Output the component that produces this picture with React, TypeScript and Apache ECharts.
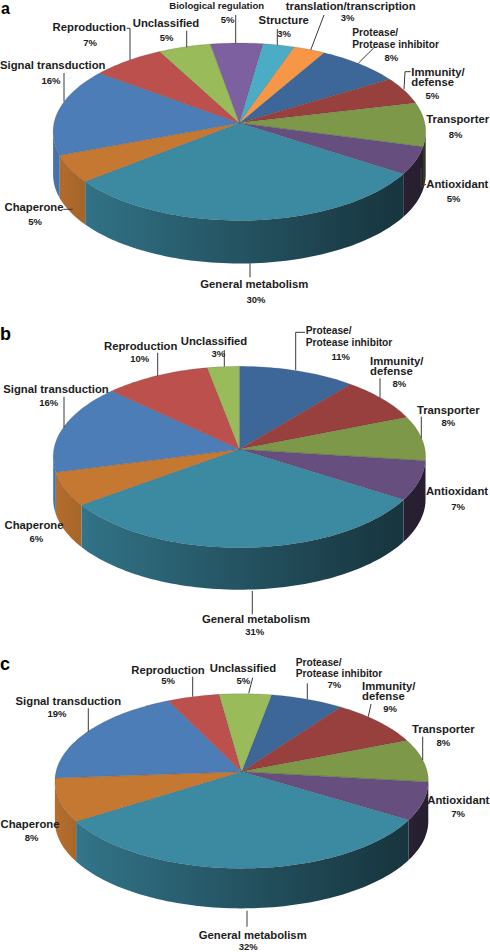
import React, { useEffect, useRef } from "react";
import * as echarts from "echarts";

// ---- data ----
const categoriesA = ["Protease/Protease inhibitor", "Immunity/defense", "Transporter", "Antioxidant", "General metabolism", "Chaperone", "Signal transduction", "Reproduction", "Unclassified", "Biological regulation", "Structure", "translation/transcription"];
const valuesA = [8, 5, 8, 5, 30, 5, 16, 7, 5, 5, 3, 3];
const categoriesB = ["Protease/Protease inhibitor", "Immunity/defense", "Transporter", "Antioxidant", "General metabolism", "Chaperone", "Signal transduction", "Reproduction", "Unclassified"];
const valuesB = [11, 8, 8, 7, 31, 6, 16, 10, 3];
const categoriesC = categoriesB;
const valuesC = [7, 9, 8, 7, 32, 8, 19, 5, 5];

const colorOf: Record<string, string> = {
  "Protease/Protease inhibitor": "#3C6798",
  "Immunity/defense": "#97403D",
  "Transporter": "#7C9848",
  "Antioxidant": "#664F7E",
  "General metabolism": "#3C8AA2",
  "Chaperone": "#C57831",
  "Signal transduction": "#4D7DB7",
  "Reproduction": "#BC504C",
  "Unclassified": "#9ABB59",
  "Biological regulation": "#7D60A0",
  "Structure": "#4BACC6",
  "translation/transcription": "#F79646",
};

// ---- layout ----
type Pie = { cx: number; apexY: number; up: number; down: number; halfW: number; depth: number; start: number };
const pieA: Pie = { cx: 239.4, apexY: 123, up: 80, down: 97.5, halfW: 186.3, depth: 43, start: 29.7 };
const pieB: Pie = { cx: 239.4, apexY: 449.3, up: 83, down: 98.4, halfW: 186.2, depth: 42, start: 0 };
const pieC: Pie = { cx: 241.6, apexY: 771.7, up: 78, down: 96.7, halfW: 186.7, depth: 40, start: 10.3 };

const L = 11.3; // label size
const P = 9.5; // percent size
const S = 10.2; // protease label size

// [text, anchor x, centre y, size, align, line height]
type T = [string, number, number, number, string?, number?];
const textsA: T[] = [
  ["Biological regulation", 216.7, 5, 9.6], ["5%", 227.7, 19.3, P],
  ["translation/transcription", 350.7, 5.5, L], ["3%", 347.7, 17.7, P],
  ["Structure", 283.7, 20, L], ["3%", 284, 33.7, P],
  ["Protease/\nProtease inhibitor", 352.3, 38.2, S, "left", 11.7], ["8%", 391.3, 57, P],
  ["Immunity/\ndefense", 411.3, 76.9, L, "left", 10.3], ["5%", 432.3, 95.3, P],
  ["Transporter", 457.7, 119, L], ["8%", 455.7, 134, P],
  ["Antioxidant", 457.3, 184.3, L], ["5%", 453.7, 198.7, P],
  ["General metabolism", 254.3, 284, L], ["30%", 256, 299.7, P],
  ["Chaperone", 34, 206.7, L], ["5%", 35, 221.7, P],
  ["Signal transduction", 52.7, 65.3, L], ["16%", 51, 80, P],
  ["Reproduction", 89.3, 27.3, L], ["7%", 90, 42, P],
  ["Unclassified", 166, 23, L], ["5%", 166.7, 37, P],
];
const textsB: T[] = [
  ["Protease/\nProtease inhibitor", 305.7, 336.4, S, "left", 11.4], ["11%", 340.7, 356, P],
  ["Immunity/\ndefense", 370, 365.9, L, "left", 10.3], ["8%", 399.3, 383.3, P],
  ["Transporter", 448.3, 410, L], ["8%", 448.3, 422.7, P],
  ["Antioxidant", 457, 491.3, L], ["7%", 458, 506, P],
  ["General metabolism", 256, 618.7, L], ["31%", 254.7, 631, P],
  ["Chaperone", 34, 525, L], ["6%", 36.3, 538.7, P],
  ["Signal transduction", 56, 389.3, L], ["16%", 48.7, 402.7, P],
  ["Reproduction", 140.7, 346, L], ["10%", 139.7, 358.3, P],
  ["Unclassified", 214, 341.3, L], ["3%", 218.3, 353, P],
];
const textsC: T[] = [
  ["Reproduction", 168, 669.5, L], ["5%", 168, 680.5, P],
  ["Unclassified", 243, 668.3, L], ["5%", 243.3, 680.7, P],
  ["Protease/\nProtease inhibitor", 295.7, 668, S, "left", 11.4], ["7%", 334.3, 684.6, P],
  ["Immunity/\ndefense", 362, 691, L, "left", 10.6], ["9%", 390, 708.3, P],
  ["Transporter", 443.3, 729.3, L], ["8%", 443.3, 742, P],
  ["Antioxidant", 458.3, 800, L], ["7%", 458, 813.7, P],
  ["General metabolism", 252.7, 934.5, L], ["32%", 248.3, 946.5, P],
  ["Chaperone", 30, 824.3, L], ["8%", 31.7, 837.7, P],
  ["Signal transduction", 68.3, 701, L], ["19%", 57, 713.3, P],
];
const panelLetters: [string, number, number, number][] = [["a", 1, 8, 16], ["b", 0, 334, 18], ["c", 0, 664, 18]];

const leaders: number[][][] = [
  // a
  [[64, 73], [64, 101.7]], [[126.7, 28.3], [130, 28.3], [130, 60]], [[186.7, 30.7], [186.7, 47.3]],
  [[235.7, 15], [235.7, 43.3]], [[277.3, 29], [277.3, 45]], [[324, 15], [310.7, 50]], [[375, 46.7], [358.3, 63.3]],
  [[410.7, 71.7], [405, 71.7], [404, 89.3]], [[426, 184.3], [421, 186.7], [421, 168]], [[250, 263.3], [250, 277.3]], [[63.3, 209.3], [72.7, 209.3]],
  // b
  [[305, 332.3], [295.7, 332.3], [295.7, 370]], [[380, 378.3], [380, 397.7]], [[421.3, 416.7], [421.3, 438.3]],
  [[252.3, 591], [252.3, 614.3]], [[64, 396.7], [64, 427.3]], [[157.7, 352.7], [157.7, 376]], [[224.3, 350], [224.3, 366.7]],
  // c
  [[192.7, 676.7], [192.7, 696.7]], [[252.7, 677.7], [248.7, 693.3]], [[307.3, 683.3], [307.3, 699.3]], [[371, 704], [368.3, 716.7]],
  [[422.7, 736.7], [422.7, 760]], [[247, 910.7], [247, 926.7]], [[88.3, 708.3], [88.3, 731.7]],
];

const FONT = '"Liberation Sans", Arial, sans-serif';
const TEXT_COLOR = "#1c1c1c";
const LINE_COLOR = "#3a3a3a";
const WALL_SHADES: [number, number][] = [[0, 0.92], [0.1, 0.82], [0.5, 0.6], [0.9, 0.4], [1, 0.38]];

function shade(hex: string, f: number) {
  const n = parseInt(hex.slice(1), 16);
  const c = [(n >> 16) & 255, (n >> 8) & 255, n & 255].map((v) => Math.round(v * f));
  return `rgb(${c[0]},${c[1]},${c[2]})`;
}

function project(p: Pie, deg: number, dy = 0): number[] {
  const k = (p.down - p.up) / (p.down + p.up);
  const B = p.up * (1 + k);
  const R = p.halfW * Math.sqrt(1 - k * k);
  const a = (deg * Math.PI) / 180;
  const w = 1 + k * Math.cos(a);
  return [p.cx + (R * Math.sin(a)) / w, p.apexY - (B * Math.cos(a)) / w + dy];
}

function arc(p: Pie, a0: number, a1: number, dy = 0) {
  const n = Math.max(2, Math.ceil((a1 - a0) / 1.5));
  const out: number[][] = [];
  for (let i = 0; i <= n; i++) out.push(project(p, a0 + ((a1 - a0) * i) / n, dy));
  return out;
}

function range(values: number[], i: number, start: number) {
  const total = values.reduce((s, v) => s + v, 0);
  const before = values.slice(0, i).reduce((s, v) => s + v, 0);
  return [start + (before / total) * 360, start + ((before + values[i]) / total) * 360];
}

function faceSeries(name: string, p: Pie, cats: string[], vals: number[]) {
  return {
    type: "custom",
    name,
    coordinateSystem: "none",
    silent: true,
    z: 3,
    data: vals.map((v, i) => ({ name: cats[i], value: [v] })),
    renderItem: (params: any) => {
      const [a0, a1] = range(vals, params.dataIndex, p.start);
      return {
        type: "polygon",
        shape: { points: [[p.cx, p.apexY], ...arc(p, a0, a1)] },
        style: { fill: colorOf[cats[params.dataIndex]], stroke: "rgba(50,50,60,0.3)", lineWidth: 0.5 },
      };
    },
  };
}

function wallSeries(name: string, p: Pie, cats: string[], vals: number[]) {
  const k = (p.down - p.up) / (p.down + p.up);
  const lo = (Math.acos(-k) * 180) / Math.PI;
  const hi = 360 - lo;
  return {
    type: "custom",
    name,
    coordinateSystem: "none",
    silent: true,
    z: 2,
    data: vals.map((v, i) => ({ name: cats[i], value: [v] })),
    renderItem: (params: any) => {
      const [a0, a1] = range(vals, params.dataIndex, p.start);
      const from = Math.max(a0, lo);
      const to = Math.min(a1, hi);
      if (to <= from) return { type: "group", children: [] };
      const color = colorOf[cats[params.dataIndex]];
      return {
        type: "polygon",
        shape: { points: [...arc(p, from, to), ...arc(p, from, to, p.depth).reverse()] },
        style: {
          fill: {
            type: "linear",
            global: true,
            x: p.cx - p.halfW,
            y: 0,
            x2: p.cx + p.halfW,
            y2: 0,
            colorStops: WALL_SHADES.map(([offset, f]) => ({ offset, color: shade(color, f) })),
          },
        },
      };
    },
  };
}

function textEl(t: T) {
  return {
    type: "text",
    silent: true,
    z: 10,
    x: t[1],
    y: t[2],
    style: {
      text: t[0],
      fill: TEXT_COLOR,
      font: `bold ${t[3]}px ${FONT}`,
      textAlign: t[4] ?? "center",
      textVerticalAlign: "middle",
      ...(t[5] ? { lineHeight: t[5] } : {}),
    },
  };
}

export default function App() {
  const ref = useRef<HTMLDivElement>(null);
  useEffect(() => {
    const chart = echarts.init(ref.current!, undefined, { renderer: "svg" });
    chart.setOption({
      animation: false,
      backgroundColor: "#ffffff",
      series: [
        wallSeries("a-wall", pieA, categoriesA, valuesA),
        faceSeries("a", pieA, categoriesA, valuesA),
        wallSeries("b-wall", pieB, categoriesB, valuesB),
        faceSeries("b", pieB, categoriesB, valuesB),
        wallSeries("c-wall", pieC, categoriesC, valuesC),
        faceSeries("c", pieC, categoriesC, valuesC),
      ],
      graphic: {
        elements: [
          ...[...textsA, ...textsB, ...textsC].map(textEl),
          ...panelLetters.map(([s, x, y, size]) => ({
            type: "text",
            silent: true,
            z: 10,
            x,
            y,
            style: { text: s, fill: "#000", font: `bold ${size}px ${FONT}`, textAlign: "left", textVerticalAlign: "middle" },
          })),
          ...leaders.map((pts) => ({
            type: "polyline",
            silent: true,
            z: 9,
            shape: { points: pts },
            style: { stroke: LINE_COLOR, lineWidth: 1, fill: "none" },
          })),
        ],
      },
    });
    return () => chart.dispose();
  }, []);
  return <div ref={ref} style={{ position: "absolute", left: 0, top: 0, width: 490, height: 952 }} />;
}
